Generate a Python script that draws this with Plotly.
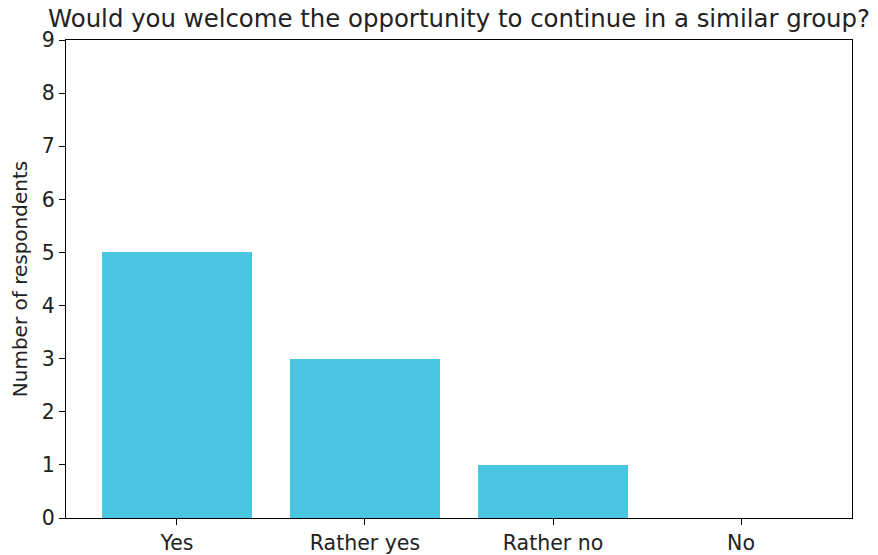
import plotly.graph_objects as go

categories = ["Yes", "Rather yes", "Rather no", "No"]
respondents = [5, 3, 1, 0]
y_ticks = list(range(0, 10))

fig = go.Figure(go.Bar(
    x=list(range(len(categories))),
    y=respondents,
    width=0.8,
    marker=dict(color="#4BC6E2", line=dict(width=0)),
))

font = "DejaVu Sans, sans-serif"
# page body has an 8px default margin, so the figure is sized to fit the window
fig.update_layout(
    width=870, height=547,
    margin=dict(l=58, r=26, t=32, b=37, autoexpand=False),
    plot_bgcolor="white", paper_bgcolor="white",
    font=dict(family=font, size=20, color="#222222"),
    title=dict(text="Would you welcome the opportunity to continue in a similar group?",
               x=0.5, xref="paper", xanchor="center", y=1, yref="container",
               yanchor="top", pad=dict(t=2),
               font=dict(family=font, size=24.4, color="#222222")),
    showlegend=False,
    bargap=0,
)
fig.update_xaxes(
    range=[-0.59, 3.59], automargin=False,
    tickmode="array", tickvals=list(range(len(categories))), ticktext=categories,
    showline=True, linecolor="black", linewidth=1.2, mirror=True,
    ticks="outside", ticklen=6, tickcolor="black", showgrid=False, zeroline=False,
    tickfont=dict(size=20.5),
)
fig.update_yaxes(
    range=[0, 9], tickvals=y_ticks, automargin=False,
    showline=True, linecolor="black", linewidth=1.2, mirror=True,
    ticks="outside", ticklen=6, tickcolor="black", showgrid=False, zeroline=False,
    title=dict(text="Number of respondents", font=dict(size=20), standoff=8),
    tickfont=dict(size=20.5),
)
fig.write_html("out.html")
